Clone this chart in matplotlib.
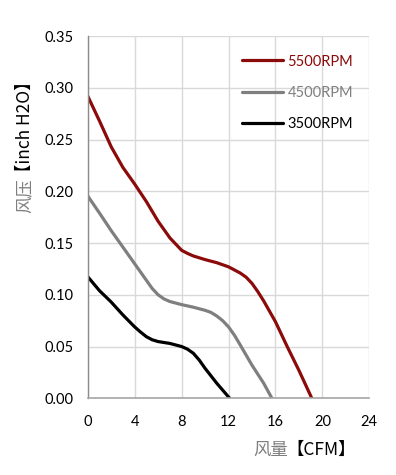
import matplotlib
matplotlib.use("Agg")
import matplotlib.pyplot as plt

plt.rcParams['font.family'] = ['Lato', 'Noto Sans CJK SC', 'DejaVu Sans']

# Data (CFM, inch H2O)
flow_5500 = [0, 1, 2, 3, 4, 5, 6, 7, 7.5, 8, 8.5, 9, 10, 11, 12, 13, 13.5, 14, 14.5, 15,
             16, 17, 18, 19.1]
pres_5500 = [0.292, 0.268, 0.243, 0.223, 0.207, 0.190, 0.171, 0.155, 0.149, 0.143, 0.140,
             0.1375, 0.134, 0.131, 0.127, 0.121, 0.117, 0.111, 0.103, 0.094, 0.074, 0.050,
             0.027, 0.0]

flow_4500 = [0, 1, 2, 3, 4, 5, 5.5, 6, 6.5, 7, 8, 9, 10, 10.5, 11, 11.5, 12, 12.5, 13, 14,
             15, 15.7]
pres_4500 = [0.1955, 0.179, 0.162, 0.146, 0.130, 0.114, 0.106, 0.100, 0.096, 0.0935, 0.0905,
             0.088, 0.085, 0.083, 0.0795, 0.075, 0.069, 0.061, 0.0515, 0.032, 0.0145, 0.0]

flow_3500 = [0, 1, 2, 3, 4, 4.5, 5, 5.5, 6, 7, 8, 8.5, 9, 9.5, 10, 11, 12.1]
pres_3500 = [0.1175, 0.104, 0.093, 0.0805, 0.069, 0.064, 0.0595, 0.0565, 0.0548, 0.053,
             0.050, 0.0475, 0.0435, 0.037, 0.029, 0.0145, 0.0]

labels = ['5500RPM', '4500RPM', '3500RPM']
colors = ['#8B0A0A', '#7F7F7F', '#000000']
x_ticks = [0, 4, 8, 12, 16, 20, 24]
y_ticks = [0.00, 0.05, 0.10, 0.15, 0.20, 0.25, 0.30, 0.35]

fig = plt.figure(figsize=(3.96, 4.75), dpi=100)
ax = fig.add_axes([0.2215, 0.1615, 0.7111, 0.7627])

series = [(flow_5500, pres_5500), (flow_4500, pres_4500), (flow_3500, pres_3500)]
for (xs, ys), lab, col in zip(series, labels, colors):
    ax.plot(xs, ys, color=col, lw=2.3, label=lab, solid_capstyle='round',
            solid_joinstyle='round')

ax.set_xlim(0, 24)
ax.set_ylim(0, 0.35)
ax.set_xticks(x_ticks)
ax.set_yticks(y_ticks)
ax.set_xticklabels([str(v) for v in x_ticks])
ax.set_yticklabels([f'{v:.2f}' for v in y_ticks])
ax.tick_params(axis='both', length=0, labelsize=10.5, colors='black')
ax.tick_params(axis='x', pad=12)
ax.tick_params(axis='y', pad=10)
ax.grid(True, color='#D9D9D9', lw=1.0)
ax.set_axisbelow(True)
for s in ['top', 'right']:
    ax.spines[s].set_visible(False)
ax.spines['left'].set_color('#8C8C8C')
ax.spines['bottom'].set_color('#A6A6A6')
ax.spines['left'].set_linewidth(1.0)
ax.spines['bottom'].set_linewidth(1.2)

leg = ax.legend(loc='upper right', bbox_to_anchor=(0.99, 0.985), frameon=False,
                fontsize=10.5, handlelength=2.8, handletextpad=0.35,
                labelspacing=1.18, labelcolor='linecolor')

# Axis titles (two-tone like reference)
fig.text(0.062, 1 - 213 / 475, '风压', rotation=90, ha='center', va='bottom', fontsize=12.5,
         color='#7F7F7F', family=['Noto Sans CJK SC'], fontweight='light')
fig.text(0.062, 1 - 181 / 475, '【inch H2O】', rotation=90, ha='center', va='bottom',
         fontsize=12.5, color='black', family=['Noto Sans CJK SC', 'DejaVu Sans'])
fig.text(253 / 396, 0.0526, '风量', ha='left', va='center', fontsize=12.5,
         color='#7F7F7F', family=['Noto Sans CJK SC'], fontweight='light')
fig.text(286 / 396, 0.0526, '【CFM】', ha='left', va='center', fontsize=12.5,
         color='black', family=['Noto Sans CJK SC', 'DejaVu Sans'])

fig.savefig('out.png', dpi=100, facecolor='white')
